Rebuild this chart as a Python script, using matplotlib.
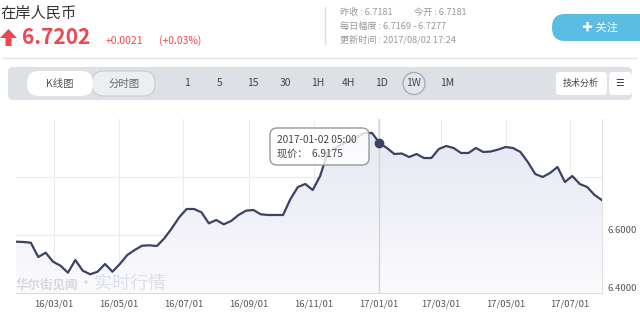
import numpy as np
import pandas as pd
import matplotlib
matplotlib.use('Agg')
import matplotlib.pyplot as plt
import matplotlib.dates as mdates
from matplotlib.patches import FancyBboxPatch, Polygon, Circle
from matplotlib.colors import LinearSegmentedColormap
from matplotlib.transforms import ScaledTranslation

plt.rcParams['font.family'] = ['Noto Sans CJK SC', 'DejaVu Sans']

# weekly close, USD/CNY onshore
start_date = '2016-01-25'
prices = [6.5769, 6.5759, 6.5734, 6.5241, 6.5390, 6.5079, 6.4941, 6.4700,
          6.5138, 6.4769, 6.4645, 6.4734, 6.5000, 6.4734, 6.5000, 6.5310,
          6.5483, 6.5631, 6.5645, 6.5621, 6.5886, 6.6231, 6.6610, 6.6897,
          6.6897, 6.6783, 6.6403, 6.6517, 6.6369, 6.6483, 6.6690, 6.6838,
          6.6862, 6.6714, 6.6690, 6.6690, 6.6690, 6.7241, 6.7655, 6.7759,
          6.7552, 6.8034, 6.8828, 6.9000, 6.9138, 6.9241, 6.9379, 6.9517,
          6.9517, 6.9175, 6.9000, 6.8793, 6.8810, 6.8690, 6.8793, 6.8655,
          6.8655, 6.8966, 6.9069, 6.9000, 6.8828, 6.8828, 6.9000, 6.8862,
          6.8879, 6.8948, 6.9034, 6.9000, 6.8862, 6.8517, 6.8103, 6.8000,
          6.8138, 6.8345, 6.7828, 6.8034, 6.7759, 6.7655, 6.7379, 6.7202]
hover_idx = 49

tick_dates = ['2016-03-01', '2016-05-01', '2016-07-01', '2016-09-01', '2016-11-01',
              '2017-01-01', '2017-03-01', '2017-05-01', '2017-07-01']
tick_labels = ['16/03/01', '16/05/01', '16/07/01', '16/09/01', '16/11/01',
               '17/01/01', '17/03/01', '17/05/01', '17/07/01']
y_ticks = [6.4, 6.6, 6.8]
y_labels = ['6.4000', '6.6000', '']

title = '在岸人民币'
last_price = '6.7202'
change = '+0.0021'
change_pct = '(+0.03%)'
info_lines = [('昨收 : 6.7181', '今开 : 6.7181'), ('每日幅度 : 6.7169 - 6.7277', ''),
              ('更新时间 : 2017/08/02 17:24', '')]
periods = ['1', '5', '15', '30', '1H', '4H', '1D', '1W', '1M']
period_x = [187, 220, 253, 285, 318, 349, 382, 414, 447]
active_period = '1W'

red = '#f0474c'
navy = '#3c4263'

fig = plt.figure(figsize=(6.4, 3.17), dpi=100)

# ---- page furniture (pixel coords), drawn under the chart ----
ui = fig.add_axes([0, 0, 1, 1])
ui.set_xlim(0, 640)
ui.set_ylim(317, 0)
ui.axis('off')

ui.text(0, 13, title, fontsize=11, color='#333333', va='center')
ui.add_patch(Polygon([(8.5, 29), (0, 38), (5.5, 38), (5.5, 46), (11.5, 46), (11.5, 38), (17, 38)],
                     closed=True, color=red, lw=0))
ui.text(22, 37, last_price, fontsize=15, fontweight='bold', color=red, va='center')
ui.text(106, 41, change, fontsize=7.5, color=red, va='center')
ui.text(159, 41, change_pct, fontsize=7.5, color=red, va='center')

ui.plot([325, 325], [7, 44], color='#dddddd', lw=1)
for i, (a, b) in enumerate(info_lines):
    ui.text(340, 12 + 14 * i, a, fontsize=6.6, color='#9a9a9a', va='center')
    if b:
        ui.text(414, 12 + 14 * i, b, fontsize=6.6, color='#9a9a9a', va='center')

ui.add_patch(FancyBboxPatch((552, 14), 100, 27, boxstyle='round,pad=0,rounding_size=13',
                            fc='#5bbde2', ec='none'))
ui.text(600, 27.5, '✚ 关注', fontsize=8, color='white', va='center', ha='center')

ui.plot([3, 637], [57.5, 57.5], color='#e3e3e3', lw=1)

# toolbar
ui.add_patch(FancyBboxPatch((8, 67), 624, 33, boxstyle='round,pad=0,rounding_size=5',
                            fc='#dde1e6', ec='none'))
ui.add_patch(FancyBboxPatch((92, 71), 63, 25, boxstyle='round,pad=0,rounding_size=12',
                            fc='#eceef1', ec='#c9cdd2', lw=0.8))
ui.add_patch(FancyBboxPatch((27, 71), 66, 25, boxstyle='round,pad=0,rounding_size=12',
                            fc='white', ec='none'))
ui.text(60, 83.5, 'K线图', fontsize=7.5, color='#555555', ha='center', va='center')
ui.text(124, 83.5, '分时图', fontsize=7.5, color='#666666', ha='center', va='center')
for p, px in zip(periods, period_x):
    if p == active_period:
        ui.add_patch(Circle((px, 83.5), 11, fc='#e3e6ea', ec='#a9afb7', lw=1))
    ui.text(px, 83.5, p, fontsize=7.5, color='#444444', ha='center', va='center')
ui.add_patch(FancyBboxPatch((556, 72), 51, 23, boxstyle='round,pad=0,rounding_size=4',
                            fc='white', ec='none'))
ui.add_patch(FancyBboxPatch((609, 72), 23, 23, boxstyle='round,pad=0,rounding_size=4',
                            fc='white', ec='none'))
ui.text(581, 83.5, '技术分析', fontsize=6.5, color='#444444', ha='center', va='center')
ui.text(620, 83.5, '☰', fontsize=7, color='#444444', ha='center', va='center')

# ---- chart ----
ax = fig.add_axes([16 / 640, 24 / 317, 586 / 640, 174 / 317])
ax.patch.set_alpha(0)
dates = pd.date_range(start_date, periods=len(prices), freq='7D')
x = mdates.date2num(dates)

fill = ax.fill_between(x, prices, 6.4, color='none', lw=0)
grad = np.linspace(0, 1, 100).reshape(-1, 1)
cmap = LinearSegmentedColormap.from_list('fade', ['#fbfbfd', '#e4e6f1'])
im = ax.imshow(grad, extent=[x[0], x[-1], 6.4, 7.0], origin='lower',
               aspect='auto', cmap=cmap, zorder=1)
im.set_clip_path(fill.get_paths()[0], transform=ax.transData)

# watermark sits on the fill, under the line
ax.text(0, 0.045, '华尔街见闻', transform=ax.transAxes, fontsize=9, fontweight='bold',
        color='#d6d9e2', va='center', zorder=2)
ax.text(0.104, 0.05, '·实时行情', transform=ax.transAxes, fontsize=13,
        color='#dcdfe7', va='center', zorder=2)

ax.plot(x, prices, color=navy, lw=1.6, zorder=4, solid_joinstyle='round')
ax.axvline(x[hover_idx], color='#d3d3d3', lw=1, zorder=2)

# tooltip
tip = FancyBboxPatch((254 / 586, 128 / 174), 99 / 586, 37 / 174, transform=ax.transAxes,
                     boxstyle='round,pad=0,rounding_size=0.012', mutation_aspect=586 / 174,
                     fc=(1, 1, 1, 0.82), ec='#999999', lw=1, zorder=6, clip_on=False)
ax.add_patch(tip)
ax.text(261 / 586, 1 - 21 / 174, dates[hover_idx].strftime('%Y-%m-%d') + ' 05:00',
        transform=ax.transAxes, fontsize=7.3, color='#444444', va='center', zorder=7)
ax.text(261 / 586, 1 - 35 / 174, '现价：  %.4f' % prices[hover_idx],
        transform=ax.transAxes, fontsize=7.3, color='#444444', va='center', zorder=7)

ax.plot(x[hover_idx], prices[hover_idx], 'o', ms=6, color=navy, zorder=8)

ax.set_xlim(x[0], x[-1])
ax.set_ylim(6.4, 7.0)
ax.set_xticks(mdates.date2num(pd.to_datetime(tick_dates)))
ax.set_xticklabels(tick_labels)
ax.set_yticks(y_ticks)
ax.set_yticklabels(y_labels)
ax.yaxis.tick_right()
ax.tick_params(axis='both', length=0, labelsize=6.8, labelcolor='#555555')
ax.tick_params(axis='x', pad=5)
ax.tick_params(axis='y', pad=4)
for lbl in ax.get_yticklabels():
    lbl.set_transform(lbl.get_transform() + ScaledTranslation(0, 4 / 72, fig.dpi_scale_trans))
ax.grid(True, color='#ececec', lw=0.8, zorder=0)
ax.set_axisbelow(True)
for side in ['top', 'left']:
    ax.spines[side].set_visible(False)
ax.spines['bottom'].set_color('#dddddd')
ax.spines['right'].set_color('#e2e2e2')

fig.savefig('out.png', dpi=100)
